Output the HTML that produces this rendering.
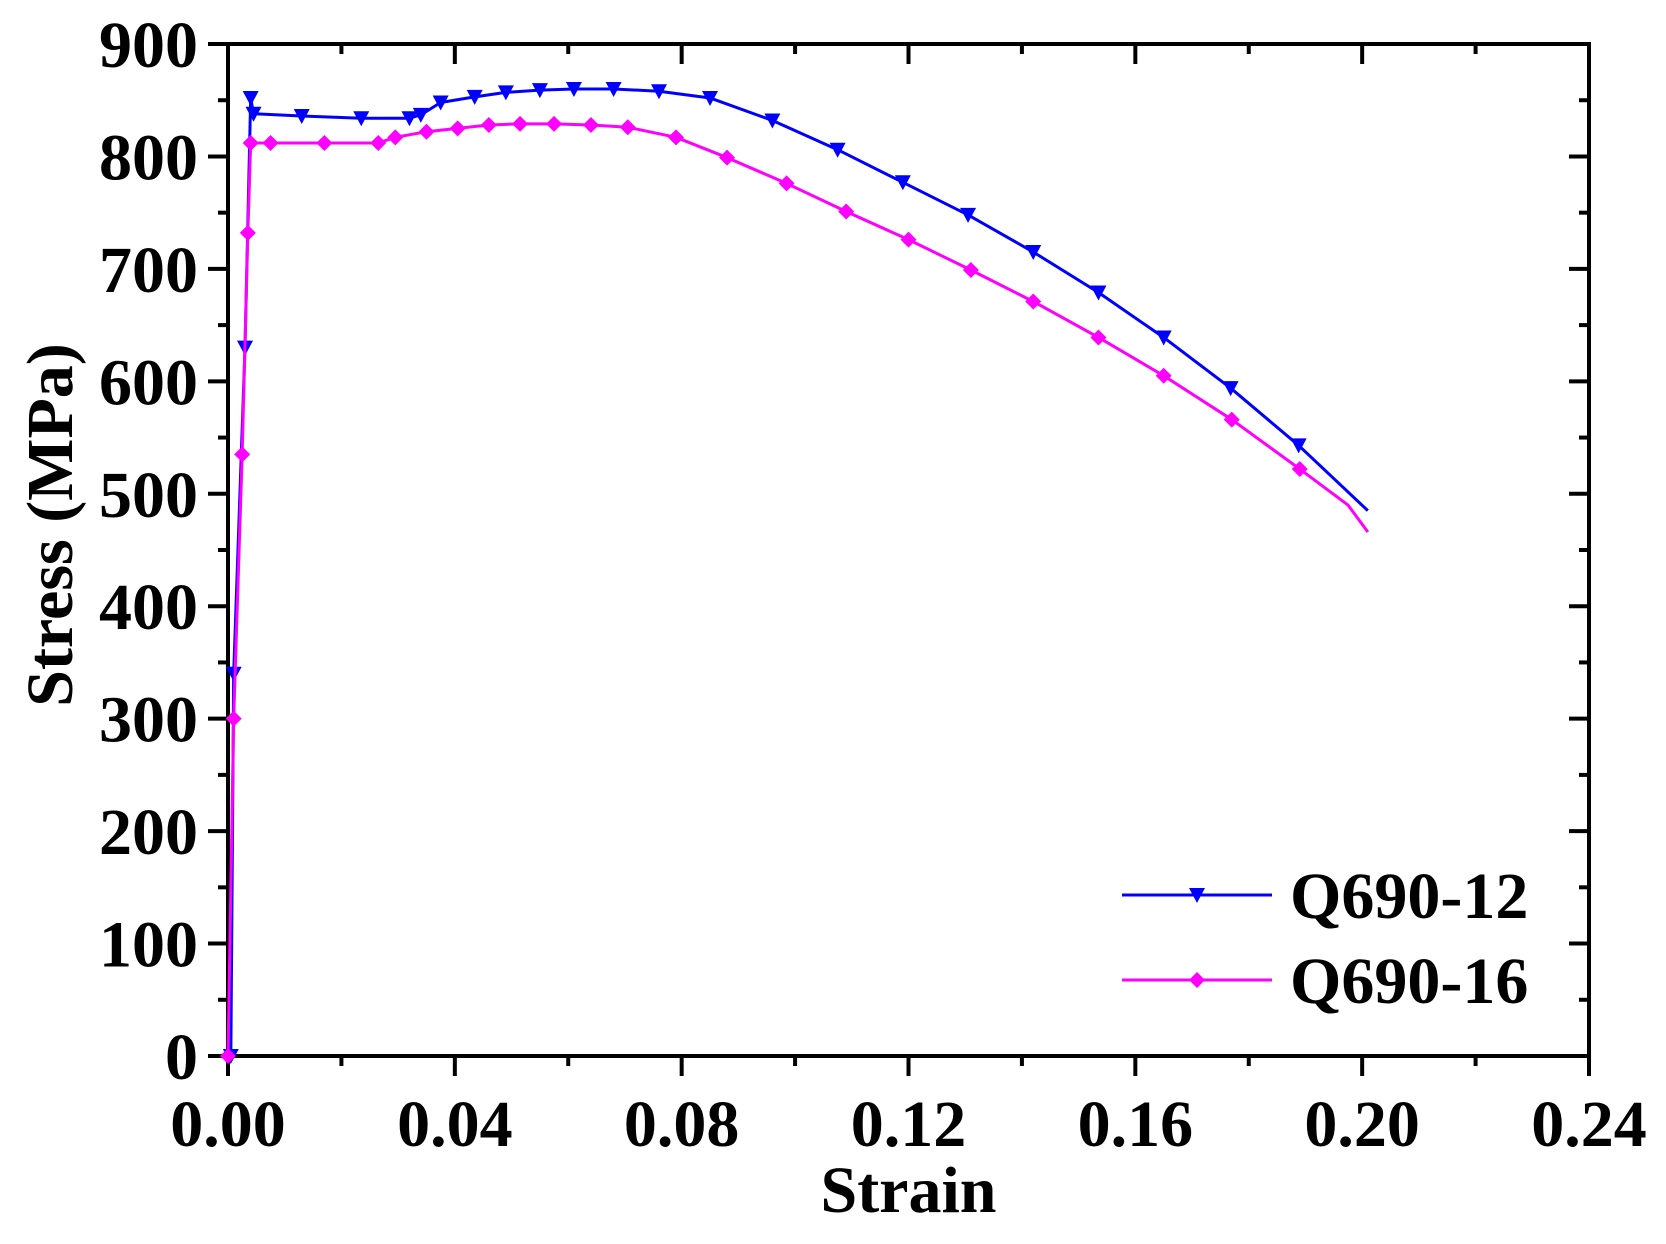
<!DOCTYPE html>
<html><head><meta charset="utf-8"><style>
html,body{margin:0;padding:0;background:#fff}
svg{display:block}
text{font-family:"Liberation Serif",serif;font-weight:bold;fill:#000}
</style></head><body>
<svg id="chart" width="1666" height="1244" viewBox="0 0 1666 1244" xmlns="http://www.w3.org/2000/svg"></svg>
<script>
const xTicks=[0,0.04,0.08,0.12,0.16,0.20,0.24];
const xTickLabels=["0.00","0.04","0.08","0.12","0.16","0.20","0.24"];
const yTicks=[0,100,200,300,400,500,600,700,800,900];
const yTickLabels=["0","100","200","300","400","500","600","700","800","900"];
const seriesNames=["Q690-12","Q690-16"];
const q12Strain=[0.0005,0.001,0.003,0.004,0.0045,0.013,0.0235,0.032,0.034,0.0375,0.0435,0.049,0.055,0.061,0.068,0.076,0.085,0.096,0.1075,0.119,0.1305,0.142,0.1535,0.165,0.1768,0.1888,0.201];
const q12Stress=[0,340,630,852,838,836,834,834,837,848,853,857,859,860,860,858,852,832,806,777,748,715,679,639,594,543,485];
const q16Strain=[0,0.001,0.0025,0.0035,0.004,0.0075,0.017,0.0265,0.0295,0.035,0.0405,0.046,0.0515,0.0575,0.064,0.0705,0.079,0.088,0.0985,0.109,0.12,0.131,0.142,0.1535,0.165,0.177,0.189,0.1975,0.201];
const q16Stress=[0,300,535,732,812,812,812,812,817,822,825,828,829,829,828,826,817,799,776,751,726,699,671,639,605,566,522,490,466];

const L=228,R=1589,T=44,B=1056;
const sx=v=>L+(v-0)/(0.24)*(R-L);
const sy=v=>B-(v/900)*(B-T);
const svg=document.getElementById('chart');
const NS='http://www.w3.org/2000/svg';
function mk(tag,attrs,parent){const e=document.createElementNS(NS,tag);for(const k in attrs)e.setAttribute(k,attrs[k]);(parent||svg).appendChild(e);return e;}

const tickG=mk('g',{stroke:'#000','stroke-width':4});


for(let i=0;i<xTicks.length;i++){
  const x=sx(xTicks[i]);
  mk('line',{x1:x,x2:x,y1:B,y2:B+20},tickG);
  mk('line',{x1:x,x2:x,y1:T,y2:T+20},tickG);
  if(i<xTicks.length-1){const xm=sx((xTicks[i]+xTicks[i+1])/2);
    mk('line',{x1:xm,x2:xm,y1:B,y2:B+10},tickG);mk('line',{x1:xm,x2:xm,y1:T,y2:T+10},tickG);}
  const t=mk('text',{x:x,y:B+90,'font-size':66,'text-anchor':'middle'});
  t.textContent=xTickLabels[i];
  
  
}
for(let i=0;i<yTicks.length;i++){
  const y=sy(yTicks[i]);
  mk('line',{x1:L-20,x2:L,y1:y,y2:y},tickG);
  mk('line',{x1:R-20,x2:R,y1:y,y2:y},tickG);
  if(i<yTicks.length-1){const ym=sy((yTicks[i]+yTicks[i+1])/2);
    mk('line',{x1:L-10,x2:L,y1:ym,y2:ym},tickG);mk('line',{x1:R-10,x2:R,y1:ym,y2:ym},tickG);}
  const t=mk('text',{x:L-30,y:y+23,'font-size':66,'text-anchor':'end'});
  t.textContent=yTickLabels[i];
  
  
}
const frame=mk('rect',{x:L,y:T,width:R-L,height:B-T,fill:'none',stroke:'#000','stroke-width':4});



function tri(g,x,y,c){mk('path',{d:`M${x-8},${y-7} L${x+8},${y-7} L${x},${y+8} Z`,fill:c},g);}
function dia(g,x,y,c){mk('path',{d:`M${x},${y-8} L${x+8},${y} L${x},${y+8} L${x-8},${y} Z`,fill:c},g);}
function series(xs,ys,c,marker,name,skipN){
  const g=mk('g',{});
  
  
  mk('polyline',{points:xs.map((v,i)=>sx(v)+','+sy(ys[i])).join(' '),fill:'none',stroke:c,'stroke-width':3,'stroke-linejoin':'round'},g);
  const n=xs.length-skipN;
  for(let i=0;i<n;i++){if(ys[i]<=0&&i>0)continue;marker(g,sx(xs[i]),sy(ys[i]),c);}
}
series(q12Strain,q12Stress,'#0000ff',tri,'series-q690-12',1);
series(q16Strain,q16Stress,'#ff00ff',dia,'series-q690-16',2);

const lg=mk('g',{});


const legCols=['#0000ff','#ff00ff'],legMk=[tri,dia],legY=[895,980];
for(let i=0;i<2;i++){
  mk('line',{x1:1122,x2:1272,y1:legY[i],y2:legY[i],stroke:legCols[i],'stroke-width':3},lg);
  legMk[i](lg,1197,legY[i],legCols[i]);
  const t=mk('text',{x:1290,y:legY[i]+23,'font-size':66},lg);
  t.textContent=seriesNames[i];
  
  
}
const xt=mk('text',{x:(L+R)/2,y:1212,'font-size':66,'text-anchor':'middle'});
xt.textContent='Strain';


const yt=mk('text',{x:0,y:0,'font-size':66,'text-anchor':'middle',transform:'translate(72,525) rotate(-90)'});
yt.textContent='Stress (MPa)';


</script>
</body></html>
